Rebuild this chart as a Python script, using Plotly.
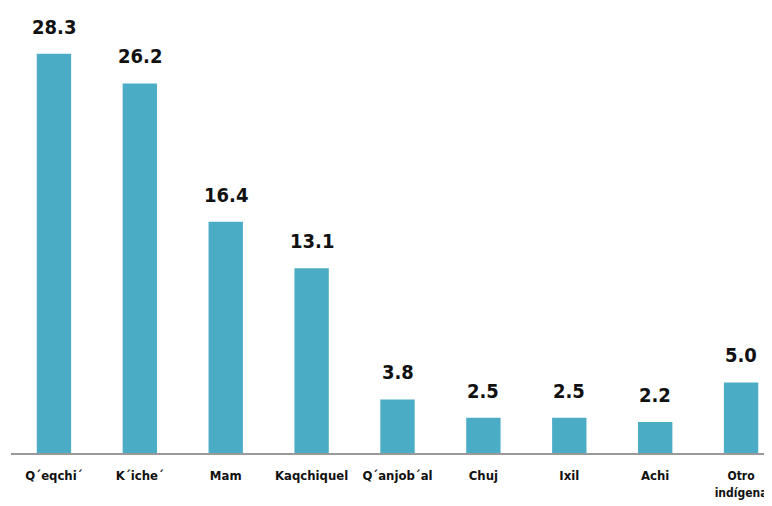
import plotly.graph_objects as go

categories = ["Q´eqchi´", "K´iche´", "Mam", "Kaqchiquel", "Q´anjob´al", "Chuj", "Ixil", "Achi", "Otro<br>indígena"]
values = [28.3, 26.2, 16.4, 13.1, 3.8, 2.5, 2.5, 2.2, 5.0]
value_labels = ["28.3", "26.2", "16.4", "13.1", "3.8", "2.5", "2.5", "2.2", "5.0"]

FONT = "DejaVu Sans Condensed, Liberation Sans Narrow, sans-serif"
BAR_COLOR = "#4BACC6"

fig = go.Figure()
fig.add_trace(go.Bar(
    x=list(range(len(categories))),
    y=values,
    width=0.4,
    marker=dict(color=BAR_COLOR, line=dict(width=0)),
    hoverinfo="skip",
))

for i, (v, lab) in enumerate(zip(values, value_labels)):
    fig.add_annotation(
        x=i, y=v, text="<b>%s</b>" % lab, showarrow=False,
        yanchor="middle", yshift=27,
        font=dict(family=FONT, size=20, color="#111111"),
    )

tick_text = []
for c in categories:
    if "<br>" in c:
        tick_text.append("<span style='font-size:12px'><b>%s</b></span>" % c)
    else:
        tick_text.append("<b>%s</b>" % c)

fig.update_layout(
    width=764, height=498,
    margin=dict(l=3, r=0, t=12, b=53),
    paper_bgcolor="white", plot_bgcolor="white",
    showlegend=False,
    xaxis=dict(
        range=[-0.5, 8.36],
        tickmode="array",
        tickvals=list(range(len(categories))),
        ticktext=tick_text,
        tickfont=dict(family=FONT, size=13, color="#111111"),
        tickangle=0,
        automargin=False,
        showgrid=False, zeroline=False,
        showline=True, linecolor="#999999", linewidth=2,
        ticks="",
        ticklabelstandoff=9,
    ),
    yaxis=dict(
        range=[0, 30.7],
        visible=False,
        automargin=False,
        showgrid=False, zeroline=False,
    ),
)

fig.write_html("out.html")
